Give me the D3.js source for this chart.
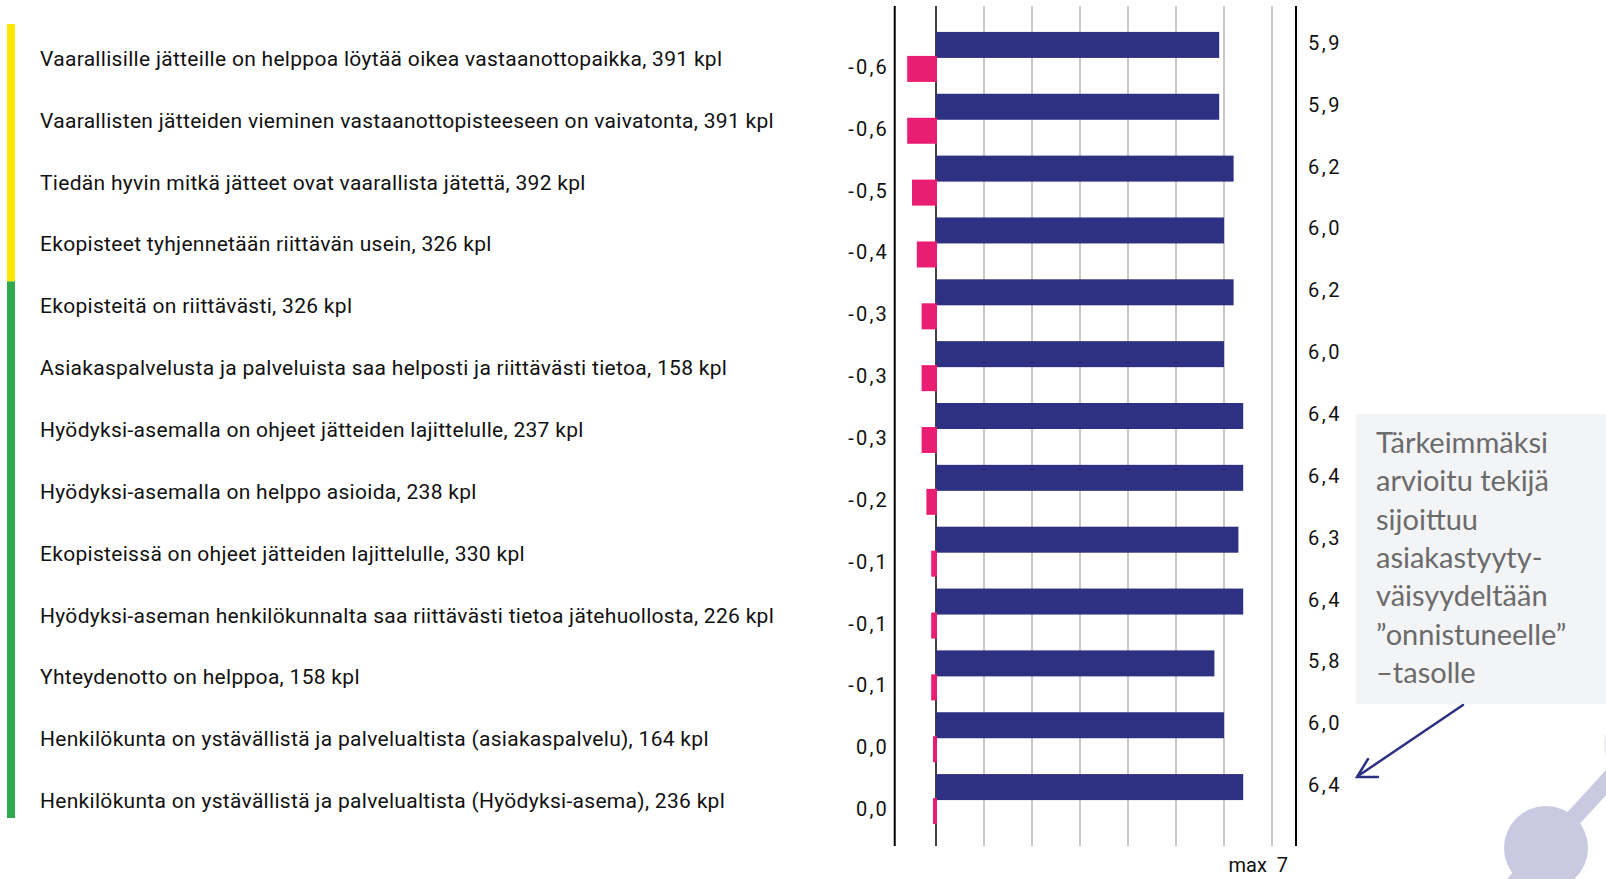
<!DOCTYPE html>
<html>
<head>
<meta charset="utf-8">
<script src="https://cdn.jsdelivr.net/npm/d3@7"></script>
<style>
  html, body { margin: 0; padding: 0; background: #ffffff; }
  svg { display: block; }
</style>
</head>
<body>
<svg id="chart" width="1606" height="879"></svg>
<script>
// Statement labels (with number of respondents)
const categories = [
  "Vaarallisille jätteille on helppoa löytää oikea vastaanottopaikka, 391 kpl",
  "Vaarallisten jätteiden vieminen vastaanottopisteeseen on vaivatonta, 391 kpl",
  "Tiedän hyvin mitkä jätteet ovat vaarallista jätettä, 392 kpl",
  "Ekopisteet tyhjennetään riittävän usein, 326 kpl",
  "Ekopisteitä on riittävästi, 326 kpl",
  "Asiakaspalvelusta ja palveluista saa helposti ja riittävästi tietoa, 158 kpl",
  "Hyödyksi-asemalla on ohjeet jätteiden lajittelulle, 237 kpl",
  "Hyödyksi-asemalla on helppo asioida, 238 kpl",
  "Ekopisteissä on ohjeet jätteiden lajittelulle, 330 kpl",
  "Hyödyksi-aseman henkilökunnalta saa riittävästi tietoa jätehuollosta, 226 kpl",
  "Yhteydenotto on helppoa, 158 kpl",
  "Henkilökunta on ystävällistä ja palvelualtista (asiakaspalvelu), 164 kpl",
  "Henkilökunta on ystävällistä ja palvelualtista (Hyödyksi-asema), 236 kpl"
];

// Gap between satisfaction and importance (pink bars)
const gapValues = [-0.6, -0.6, -0.5, -0.4, -0.3, -0.3, -0.3, -0.2, -0.1, -0.1, -0.1, 0.0, 0.0];

// Average satisfaction on a 1–7 scale (blue bars)
const meanValues = [5.9, 5.9, 6.2, 6.0, 6.2, 6.0, 6.4, 6.4, 6.3, 6.4, 5.8, 6.0, 6.4];

// Vertical gridline values
const gridTicks = [1, 2, 3, 4, 5, 6, 7];
const scaleMaxLabel = "max  7";

// Colour groups shown on the left strip (index ranges of categories)
const groupNames = ["kehitettävä", "onnistunut"];
const groupStarts = [0, 4];
const groupEnds = [3, 12];
const groupColors = ["#ffe600", "#2fa84f"];

const noteLines = [
  "Tärkeimmäksi",
  "arvioitu tekijä",
  "sijoittuu",
  "asiakastyyty-",
  "väisyydeltään",
  "\u201donnistuneelle\u201d",
  "\u2013tasolle"
];

const BLUE = "#2e3182";
const PINK = "#e91e73";
const FONT = "Roboto, 'Liberation Sans', sans-serif";
const fmt = v => d3.format(".1f")(v).replace(".", ",").replace("−", "-");

const svg = d3.select("#chart");

const x = d3.scaleLinear().domain([0, 7]).range([936, 1272]);
const y = d3.scaleBand().domain(categories).range([26, 830]).padding(0);
const bw = y.bandwidth();
const cy = d => y(d) + bw / 2;

const plotTop = 6, plotBottom = 846;
const xLeftFrame = x(-0.86), xRightFrame = x(7.5);

// Gridlines
svg.append("g")
  .selectAll("line")
  .data(gridTicks)
  .join("line")
  .attr("x1", d => x(d)).attr("x2", d => x(d))
  .attr("y1", plotTop).attr("y2", plotBottom)
  .attr("stroke", "#c8c8c8").attr("stroke-width", 2);

// Frame lines
svg.append("line")
  .attr("x1", xLeftFrame).attr("x2", xLeftFrame)
  .attr("y1", plotTop).attr("y2", plotBottom)
  .attr("stroke", "#000").attr("stroke-width", 2);
svg.append("line")
  .attr("x1", xRightFrame).attr("x2", xRightFrame)
  .attr("y1", plotTop).attr("y2", plotBottom)
  .attr("stroke", "#000").attr("stroke-width", 2);

// Zero line
svg.append("line")
  .attr("x1", x(0)).attr("x2", x(0))
  .attr("y1", plotTop).attr("y2", plotBottom)
  .attr("stroke", "#000").attr("stroke-width", 1.5);

// Blue bars (satisfaction)
svg.append("g")
  .selectAll("rect")
  .data(categories)
  .join("rect")
  .attr("x", x(0))
  .attr("y", d => cy(d) - 25)
  .attr("width", (d, i) => x(meanValues[i]) - x(0))
  .attr("height", 26)
  .attr("fill", BLUE);

// Pink bars (gap), slightly overlapping the zero line
svg.append("g")
  .selectAll("rect")
  .data(categories)
  .join("rect")
  .attr("x", (d, i) => Math.min(x(gapValues[i]), x(0) - 3))
  .attr("y", d => cy(d) - 1)
  .attr("width", (d, i) => Math.max(x(0) - x(gapValues[i]), 3) + 1)
  .attr("height", 26)
  .attr("fill", PINK);

// Category labels
svg.append("g")
  .selectAll("text")
  .data(categories)
  .join("text")
  .attr("x", 40)
  .attr("y", d => cy(d) + 9)
  .attr("font-family", FONT)
  .attr("font-size", 21)
  .attr("letter-spacing", 0.3)
  .attr("fill", "#111")
  .text(d => d);

// Gap value labels (left of plot)
svg.append("g")
  .selectAll("text")
  .data(categories)
  .join("text")
  .attr("x", 889)
  .attr("y", d => cy(d) + 12 + 5)
  .attr("text-anchor", "end")
  .attr("font-family", FONT)
  .attr("font-size", 20)
  .attr("letter-spacing", 2.2)
  .attr("fill", "#111")
  .text((d, i) => fmt(gapValues[i]));

// Mean value labels (right of plot)
svg.append("g")
  .selectAll("text")
  .data(categories)
  .join("text")
  .attr("x", 1308)
  .attr("y", d => cy(d) - 12 + 5)
  .attr("font-family", FONT)
  .attr("font-size", 20)
  .attr("letter-spacing", 2.5)
  .attr("fill", "#111")
  .text((d, i) => fmt(meanValues[i]));

// Scale maximum label
svg.append("text")
  .attr("x", 1288).attr("y", 872)
  .attr("text-anchor", "end")
  .attr("font-family", FONT)
  .attr("font-size", 20)
  .attr("fill", "#111")
  .attr("xml:space", "preserve")
  .style("white-space", "pre")
  .text(scaleMaxLabel);

// Group strip on the left
const stripTop = i => i === 0 ? y(categories[groupStarts[i]]) - 2 : y(categories[groupStarts[i]]) + 8;
const stripBottom = i => i === groupNames.length - 1
  ? y(categories[groupEnds[i]]) + bw - 12
  : stripTop(i + 1);
svg.append("g")
  .selectAll("rect")
  .data(groupNames)
  .join("rect")
  .attr("x", 7)
  .attr("width", 8)
  .attr("y", (d, i) => stripTop(i))
  .attr("height", (d, i) => stripBottom(i) - stripTop(i))
  .attr("fill", (d, i) => groupColors[i]);

// Decorative shapes, bottom right
const deco = svg.append("g").attr("fill", "#c9cae1").attr("stroke", "#c9cae1");
deco.append("circle").attr("cx", 1642).attr("cy", 745).attr("r", 38)
  .attr("fill", "#ececf1").attr("stroke", "none");
deco.append("line").attr("x1", 1546).attr("y1", 848).attr("x2", 1625).attr("y2", 762)
  .attr("stroke-width", 17);
deco.append("line").attr("x1", 1546).attr("y1", 848).attr("x2", 1500).attr("y2", 900)
  .attr("stroke-width", 17);
deco.append("circle").attr("cx", 1546).attr("cy", 848).attr("r", 42).attr("stroke", "none");

// Note box
svg.append("rect")
  .attr("x", 1356).attr("y", 414)
  .attr("width", 260).attr("height", 290)
  .attr("fill", "#f3f4f6");

svg.append("g")
  .selectAll("text")
  .data(noteLines)
  .join("text")
  .attr("x", 1376)
  .attr("y", (d, i) => 453 + i * 38.3)
  .attr("font-family", "Lato, sans-serif")
  .attr("font-size", 29)
  .attr("fill", "#6b6b6b")
  .text(d => d);

// Arrow pointing to the most important item
const arrow = svg.append("g").attr("stroke", BLUE).attr("stroke-width", 2.5)
  .attr("fill", "none").attr("stroke-linecap", "round");
arrow.append("line").attr("x1", 1463).attr("y1", 705).attr("x2", 1358).attr("y2", 776);
arrow.append("polyline").attr("points", "1368,759 1357,777 1378,777");
</script>
</body>
</html>
